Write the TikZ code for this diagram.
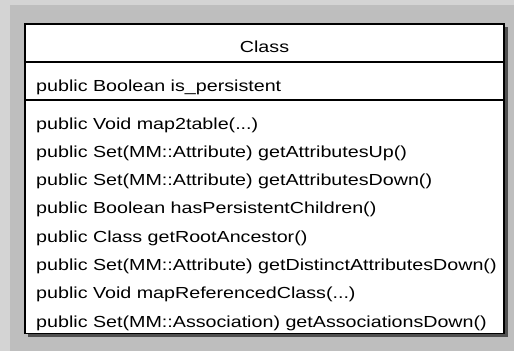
\documentclass[tikz,border=0pt]{standalone}
\usepackage{fontspec}
\setmainfont[FakeStretch=1.23]{Liberation Sans}
\begin{document}
\begin{tikzpicture}[x=1pt,y=-1pt,
  txt/.style={font=\fontsize{16}{18}\selectfont, inner sep=0pt, text=black},
  member/.style={txt, anchor=base west},
  sepline/.style={draw=black, line width=1.4pt}]
\useasboundingbox (0,0) rectangle (514,351);
% background
\fill[fill={rgb,255:red,212;green,212;blue,212}] (0,0) rectangle (514,351);
\fill[fill={rgb,255:red,190;green,190;blue,190}] (10,5) rectangle (514,351);
% shadow
\fill[fill={rgb,255:red,80;green,80;blue,80}] (28,27) rectangle (507.5,336.5);
% box
\filldraw[fill=white, draw=black, line width=1.2pt] (25,24) rectangle (504,333.5);
\draw[sepline] (25,62) -- (504,62);
\draw[sepline] (25,100) -- (504,100);
% texts
\node[txt, anchor=base] (name) at (264.5,52) {Class};
\node[member] (a1) at (36,91) {public Boolean is\_persistent};
\node[member] (m1) at (36,129) {public Void map2table(...)};
\node[member] (m2) at (36,157.3) {public Set(MM::Attribute) getAttributesUp()};
\node[member] (m3) at (36,185.6) {public Set(MM::Attribute) getAttributesDown()};
\node[member] (m4) at (36,213.9) {public Boolean hasPersistentChildren()};
\node[member] (m5) at (36,242.2) {public Class getRootAncestor()};
\node[member] (m6) at (36,270.5) {public Set(MM::Attribute) getDistinctAttributesDown()};
\node[member] (m7) at (36,298.8) {public Void mapReferencedClass(...)};
\node[member] (m8) at (36,327) {public Set(MM::Association) getAssociationsDown()};
\end{tikzpicture}
\end{document}
